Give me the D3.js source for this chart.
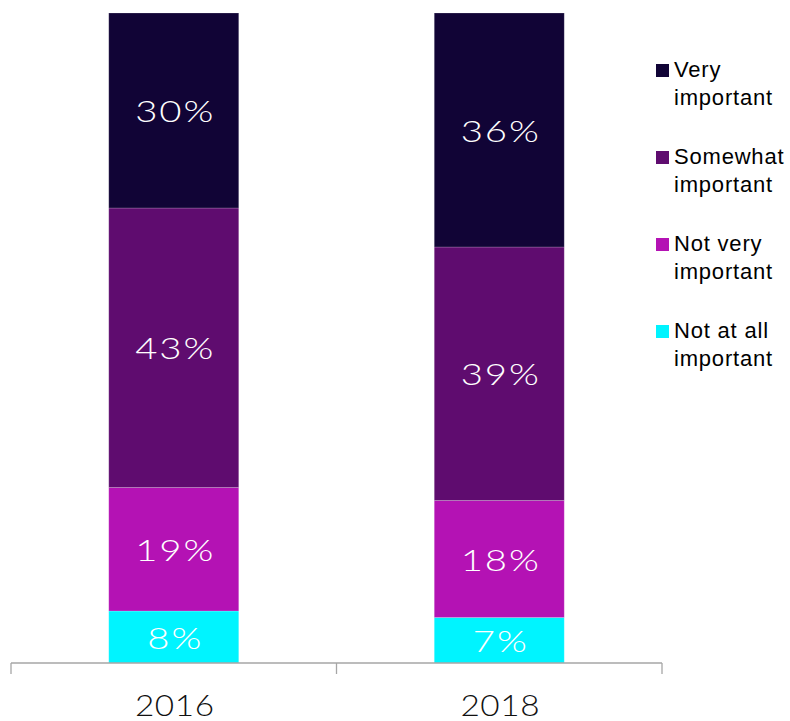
<!DOCTYPE html>
<html>
<head>
<meta charset="utf-8">
<script src="https://cdn.jsdelivr.net/npm/d3@7"></script>
<style>
  body { margin: 0; background: #fff; }
</style>
</head>
<body>
<svg id="chart"></svg>
<script>
const years = ["2016", "2018"];
const keys = ["notAtAll", "notVery", "somewhat", "very"];
const labels = ["Not at all important", "Not very important", "Somewhat important", "Very important"];
const colors = ["#00f4ff", "#b412b4", "#5f0c6f", "#110436"];
const notAtAll = [8, 7];
const notVery = [19, 18];
const somewhat = [43, 39];
const very = [30, 36];

const rows = years.map((y, i) => ({
  year: y, notAtAll: notAtAll[i], notVery: notVery[i], somewhat: somewhat[i], very: very[i]
}));

const width = 790, height = 721;
const svg = d3.select("#chart").attr("width", width).attr("height", height);

const x = d3.scaleBand().domain(years).range([11, 662]).paddingInner(0).paddingOuter(0);
const y = d3.scaleLinear().domain([0, 100]).range([663, 13]);
const color = d3.scaleOrdinal().domain(keys).range(colors);

const stack = d3.stack().keys(keys)(rows);
const barW = 130;
const spacing = 1.5;

const layer = svg.append("g").selectAll("g")
  .data(stack)
  .enter().append("g")
  .attr("fill", d => color(d.key));

layer.selectAll("rect")
  .data(d => d)
  .enter().append("rect")
  .attr("x", d => x(d.data.year) + x.bandwidth() / 2 - barW / 2)
  .attr("y", d => y(d[1]))
  .attr("width", barW)
  .attr("height", d => y(d[0]) - y(d[1]))
  .attr("stroke", "rgba(255,255,255,0.25)")
  .attr("stroke-width", 0.8);

// wide, light labels: Lato stretched horizontally
layer.selectAll("text")
  .data(d => d)
  .enter().append("text")
  .attr("transform", d => `translate(${x(d.data.year) + x.bandwidth() / 2 + spacing},${(y(d[0]) + y(d[1])) / 2 + 1}) scale(1.3,1)`)
  .attr("dy", "0.36em")
  .attr("text-anchor", "middle")
  .style("font-family", "Lato, 'Open Sans', sans-serif")
  .style("font-weight", 300)
  .style("font-size", "29.5px")
  .style("letter-spacing", spacing + "px")
  .attr("fill", "#fff")
  .text(d => (d[1] - d[0]) + "%");

// axis
const axis = svg.append("g").attr("transform", "translate(0,663)");
axis.append("line").attr("x1", 11).attr("x2", 662).attr("y1", 0).attr("y2", 0)
  .attr("stroke", "#a6a6a6").attr("stroke-width", 1.3);
const ticks = [11].concat(years.map(d => x(d) + x.bandwidth()));
axis.selectAll("line.tick").data(ticks).enter().append("line")
  .attr("class", "tick")
  .attr("x1", d => d).attr("x2", d => d).attr("y1", 0).attr("y2", 11)
  .attr("stroke", "#a6a6a6").attr("stroke-width", 1.3);
axis.selectAll("text").data(years).enter().append("text")
  .attr("transform", d => `translate(${x(d) + x.bandwidth() / 2 + 1},53) scale(1.15,1)`)
  .attr("text-anchor", "middle")
  .style("font-family", "Lato, 'Open Sans', sans-serif")
  .style("font-weight", 300)
  .style("font-size", "29px")
  .style("letter-spacing", "0.5px")
  .attr("fill", "#111")
  .text(d => d);

// legend, top entry first
const legendItems = keys.map((k, i) => ({ key: k, label: labels[i] })).reverse();
const legend = svg.append("g").selectAll("g")
  .data(legendItems)
  .enter().append("g")
  .attr("transform", (d, i) => `translate(656,${70 + i * 87})`);

legend.append("rect")
  .attr("x", 0).attr("y", -6).attr("width", 13).attr("height", 13)
  .attr("fill", d => color(d.key));

legend.append("text")
  .style("font-family", "'Liberation Sans', Arial, sans-serif")
  .style("font-size", "22px")
  .style("letter-spacing", "0.8px")
  .attr("fill", "#000")
  .selectAll("tspan")
  .data(d => {
    const parts = d.label.split(" ");
    const last = parts.pop();
    return [parts.join(" "), last];
  })
  .enter().append("tspan")
  .attr("x", 18)
  .attr("y", (d, i) => 7 + i * 28)
  .text(d => d);
</script>
</body>
</html>
